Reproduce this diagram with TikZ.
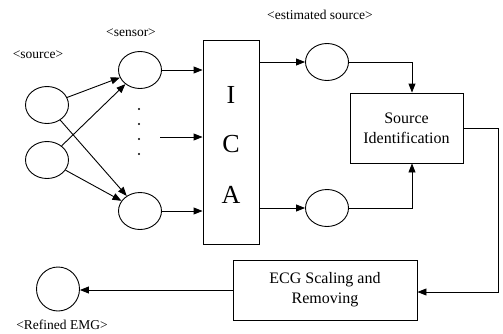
\documentclass[tikz,border=0pt]{standalone}
\usepackage{fontspec}
\setmainfont{Liberation Serif}
\usetikzlibrary{arrows.meta,shapes.geometric}
\begin{document}
\begin{tikzpicture}[x=1pt,y=-1pt,
  every path/.style={line width=0.9pt},
  blob/.style={draw,ellipse,minimum width=43pt,minimum height=37pt,inner sep=0pt},
  lbl/.style={font=\fontsize{13.5}{16}\selectfont,inner sep=0pt},
  boxtxt/.style={draw,align=center,font=\fontsize{16}{20}\selectfont,inner sep=0pt},
  flow/.style={-{Triangle[length=9pt,width=7pt]}}]
\useasboundingbox (0,0) rectangle (503,333);

% sources and sensors
\node[blob] (src1) at (47,105) {};
\node[blob] (src2) at (47,160) {};
\node[blob] (sen1) at (140,70) {};
\node[blob] (sen2) at (140,211) {};
\foreach \yy in {109,124,139,154} \fill (139,\yy) circle (1.1pt);

\node[lbl] (lsrc) at (38,55) {<source>};
\node[lbl] (lsen) at (131,33) {<sensor>};

% ICA block
\node[draw,minimum width=56pt,minimum height=204pt,inner sep=0pt] (ica) at (231,142) {};
\node[font=\fontsize{26}{30}\selectfont,inner sep=0pt] (li) at (231,95) {I};
\node[font=\fontsize{26}{30}\selectfont,inner sep=0pt] (lc) at (231,144) {C};
\node[font=\fontsize{26}{30}\selectfont,inner sep=0pt] (la) at (231,195) {A};
\coordinate (mid) at (160,137);

% estimated sources
\node[blob] (est1) at (327,62) {};
\node[blob] (est2) at (327,208) {};
\node[lbl] (lest) at (320,15) {<estimated source>};

% identification and removal stages
\node[boxtxt,minimum width=113pt,minimum height=70pt] (sid) at (406.5,128) {Source\\Identification};
\node[boxtxt,minimum width=184pt,minimum height=60pt] (ecg) at (325,290) {ECG Scaling and\\Removing};

\node[blob,minimum height=44pt] (out) at (58,289) {};
\node[lbl] (lout) at (62,324.5) {<Refined EMG>};

% connectors
\draw[flow] (src1) -- (sen1);
\draw[flow] (src1) -- (sen2);
\draw[flow] (src2) -- (sen1);
\draw[flow] (src2) -- (sen2);
\draw[flow] (sen1.east) -- (sen1.east -| ica.west);
\draw[flow] (sen2.east) -- (sen2.east -| ica.west);
\draw[flow] (mid) -- (mid -| ica.west);
\draw[flow] (ica.east |- est1.west) -- (est1.west);
\draw[flow] (ica.east |- est2.west) -- (est2.west);
\draw[flow] (est1.east) -| (412,0 |- sid.north);
\draw[flow] (est2.east) -| (412,0 |- sid.south);
\coordinate (turn) at (498,292);
\draw[flow] (sid.east) -| (turn) -- (turn -| ecg.east);
\draw[flow] (ecg.west) -- (ecg.west -| out.east);
\end{tikzpicture}
\end{document}
